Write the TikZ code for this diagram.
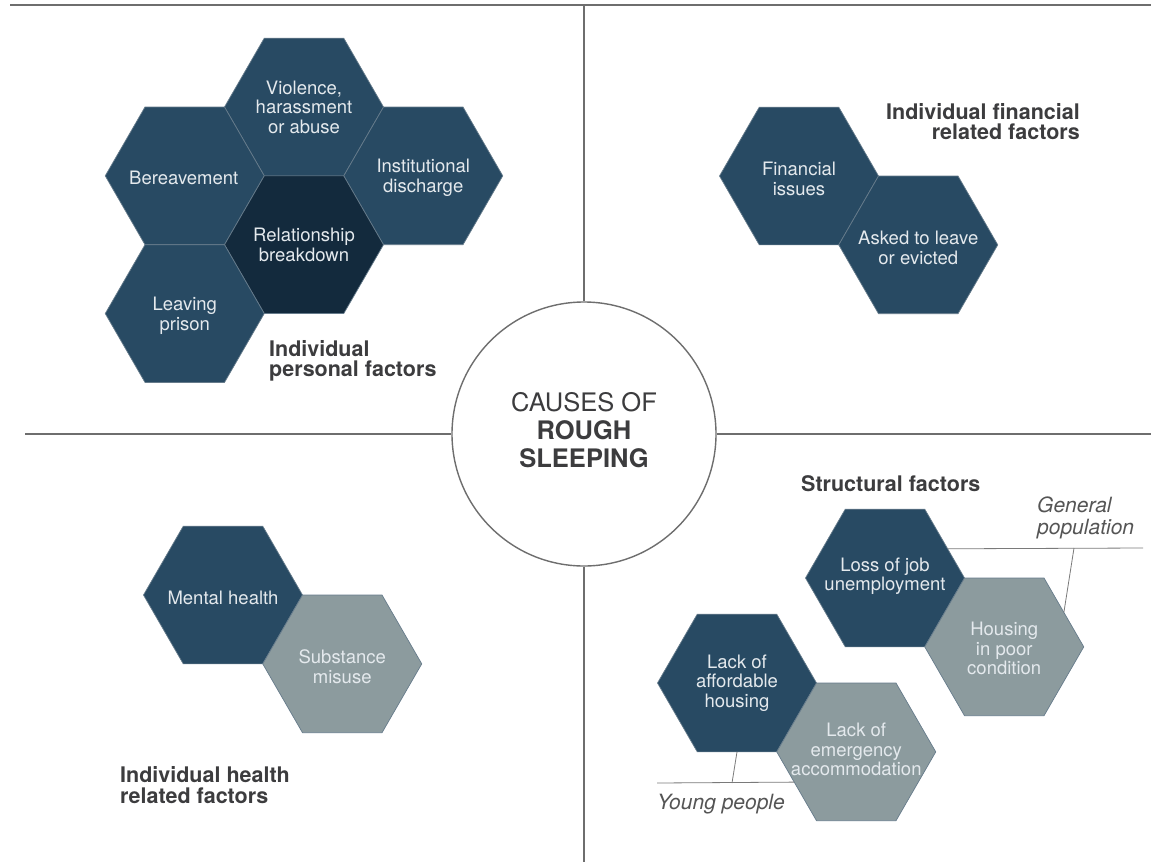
\documentclass[tikz,border=0pt]{standalone}
\usepackage{fontspec}
\setmainfont{TeX Gyre Heros}
\usetikzlibrary{shapes.geometric,calc}
\definecolor{hexdark}{HTML}{284A63}
\definecolor{hexdeep}{HTML}{132A3D}
\definecolor{hexgray}{HTML}{8C9B9E}
\definecolor{hexline}{HTML}{667B8B}
\definecolor{hextxt}{HTML}{E4E9ED}
\definecolor{labtxt}{HTML}{3C3C3E}
\definecolor{grptxt}{HTML}{555555}
\definecolor{quadline}{HTML}{6E6E6E}
\definecolor{ptrline}{HTML}{7A7A7A}
\begin{document}
\begin{tikzpicture}[x=1pt,y=-1pt,
  hexbase/.style={regular polygon, regular polygon sides=6, minimum size=159pt,
    inner sep=0pt, outer sep=0pt, draw=hexline, line width=0.7pt},
  hexd/.style={hexbase, fill=hexdark},
  hexdd/.style={hexbase, fill=hexdeep},
  hexg/.style={hexbase, fill=hexgray},
  hextext/.style={text=hextxt, align=center, inner sep=0pt,
    font=\fontsize{18.5}{19.5}\selectfont},
  catlabel/.style={text=labtxt, inner sep=0pt,
    font=\fontsize{21.5}{20.5}\selectfont\bfseries},
  grplabel/.style={text=grptxt, inner sep=0pt, align=left,
    font=\fontsize{21}{21.5}\selectfont\itshape},
  quad/.style={draw=quadline, line width=1.3pt},
  pointer/.style={draw=ptrline, line width=0.8pt}
]
\useasboundingbox (0,0) rectangle (1151,862);
\fill[white] (0,0) rectangle (1151,862);

% central circle
\node[circle, draw=quadline, line width=1.4pt, minimum size=264pt, inner sep=0pt] (hub) at (584,434) {};
\node[text=labtxt, align=center, inner sep=0pt, font=\fontsize{25.5}{28}\selectfont] (hubtext) at (584,430.5)
  {CAUSES OF\\\textbf{ROUGH}\\\textbf{SLEEPING}};

% quadrant lines
\coordinate (tl) at (10,5);
\coordinate (tr) at (1151,5);
\coordinate (vtop) at (584,5);
\coordinate (vbot) at (584,862);
\coordinate (hl) at (25,434);
\coordinate (hr) at (1151,434);
\draw[quad] (tl) -- (tr);
\draw[quad] (vtop) -- (hub.north);
\draw[quad] (hub.south) -- (vbot);
\draw[quad] (hl) -- (hub.west);
\draw[quad] (hub.east) -- (hr);

% top-left cluster: individual personal factors
\node[hexd]  (viol)  at (304,107) {};
\node[hexd]  (ber)   at (184.75,175.85) {};
\node[hexd]  (inst)  at (423.25,175.85) {};
\node[hexdd] (rel)   at (304,244.7) {};
\node[hexd]  (leave) at (184.75,313.55) {};
\node[hextext] at (viol)  {Violence,\\harassment\\or abuse};
\node[hextext] at ($(ber)+(-1,2)$)   {Bereavement};
\node[hextext] at ($(inst)+(0,2)$)  {Institutional\\discharge};
\node[hextext] at (rel)   {Relationship\\breakdown};
\node[hextext] at ($(leave)+(0,2)$) {Leaving\\prison};
\node[catlabel, anchor=west, align=left] (perslab) at (269,361) {Individual\\personal factors};

% top-right: financial
\node[hexd] (fin)   at (799,176) {};
\node[hexd] (asked) at (918.25,244.85) {};
\node[hextext] at ($(fin)+(0,3)$)   {Financial\\issues};
\node[hextext] at ($(asked)+(0,3)$) {Asked to leave\\or evicted};
\node[catlabel, anchor=east, align=right] (finlab) at (1080,121.5) {Individual financial\\related factors};

% bottom-left: health
\node[hexd] (ment) at (223,595) {};
\node[hexg] (subs) at (342.25,663.85) {};
\node[hextext] at ($(ment)+(0,3)$) {Mental health};
\node[hextext] at ($(subs)+(0,3)$) {Substance\\misuse};
\node[catlabel, anchor=west, align=left] (heallab) at (120,785) {Individual health\\related factors};

% bottom-right: structural
\node[catlabel, anchor=west] (structlab) at (801,484) {Structural factors};
\node[hexd] (loss) at (885,578) {};
\node[hexg] (hous) at (1004.25,646.85) {};
\node[hexd] (aff)  at (737,683) {};
\node[hexg] (emer) at (856.25,751.85) {};
\node[hextext] at ($(loss)+(0,-2)$) {Loss of job\\unemployment};
\node[hextext] at ($(hous)+(0,2)$)  {Housing\\in poor\\condition};
\node[hextext] at (aff)  {Lack of\\affordable\\housing};
\node[hextext] at ($(emer)+(0,-2)$) {Lack of\\emergency\\accommodation};

% general population pointer
\coordinate (gpend)  at (1143,548);
\coordinate (gpknee) at (1074,548);
\draw[pointer] (loss.25.76) -- (gpend);
\draw[pointer] (gpknee) -- (hous.30);
\node[grplabel, anchor=west] (gplab) at (1037,518) {General\\population};

% young people pointer
\coordinate (ypstart) at (657,783);
\coordinate (ypknee)  at (732,783);
\draw[pointer] (ypstart) -- (emer.206.85);
\draw[pointer] (ypknee) -- (aff.south);
\node[grplabel, anchor=west] (yplab) at (657,804) {Young people};
\end{tikzpicture}
\end{document}
